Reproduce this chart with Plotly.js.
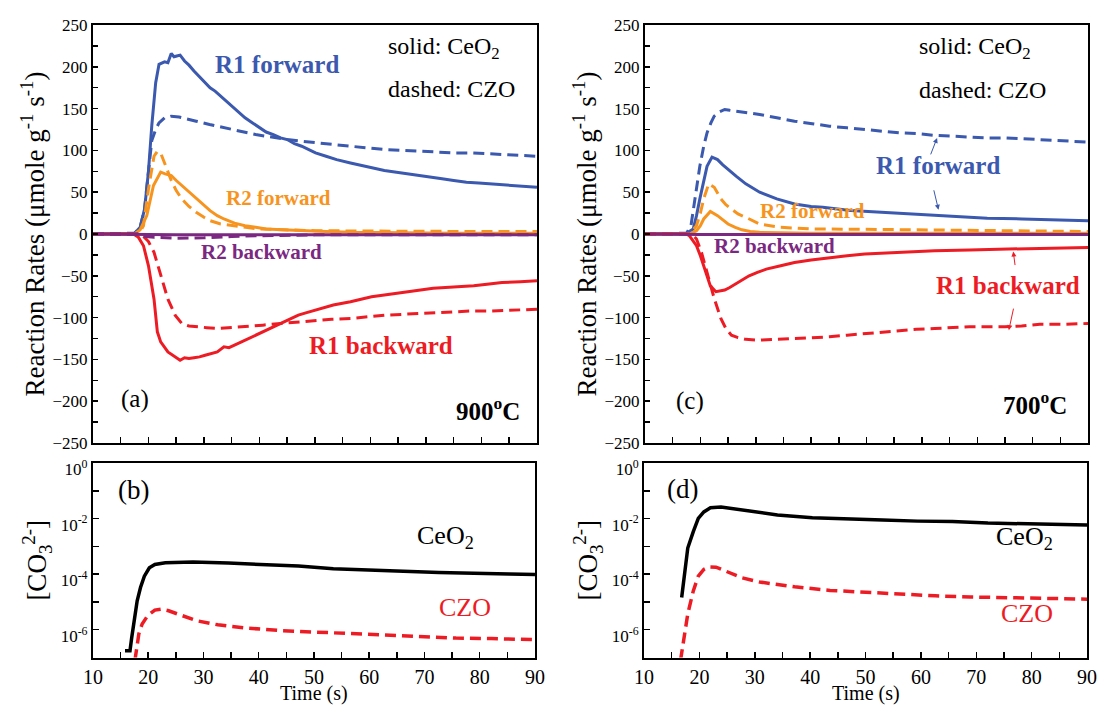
<!DOCTYPE html>
<html>
<head>
<meta charset="utf-8">
<script src="https://cdn.plot.ly/plotly-3.0.1.min.js"></script>
<style>html,body{margin:0;padding:0;background:#fff;}#chart{width:1099px;height:707px;}</style>
</head>
<body>
<div id="chart"></div>
<script>
// ---------- Panel (a): 900 C reaction rates ----------
const a_r1f_ceo2_x = [10, 17.5, 18.5, 19.3, 20, 20.6, 21.3, 21.9, 22.9, 23.5, 24.1, 24.6, 25.1, 25.7, 26.5, 27.3, 28.2, 29.2, 30.2, 31.1, 32, 33, 34, 34.9, 36, 37.4, 38.5, 40, 41.2, 42.5, 43.8, 45, 46.3, 47.6, 48.8, 50.1, 52, 53.9, 56.4, 58.3, 60.2, 62.5, 64.7, 67, 69.1, 71, 72.9, 75, 77.3, 79.5, 81.8, 83.7, 85.6, 87.8, 90];
const a_r1f_ceo2_y = [0, 1, 8, 30, 75, 130, 181, 203, 206, 205, 216, 212, 213, 214, 207, 202, 195, 188, 181, 175, 171, 165, 160, 154, 148, 139, 134, 127, 122, 119, 115, 113, 108, 105, 101, 97, 93, 89, 85, 82, 79, 76, 74, 72, 70, 68, 66, 64, 62, 61, 60, 59, 58, 57, 56];
const a_r1f_czo_x = [10, 17.5, 18.5, 19.3, 20, 20.6, 21.3, 21.9, 22.9, 24.1, 25.5, 27, 28.6, 31, 33.6, 35.5, 37.4, 39.3, 41.2, 43, 45, 47.5, 50.1, 53, 56.4, 59.5, 62.8, 66, 69, 72, 75.4, 78.5, 81.8, 86, 90];
const a_r1f_czo_y = [0, 1, 8, 30, 75, 112, 125, 133, 139, 141, 140, 138, 135, 131, 127, 124, 121, 119, 117, 115, 113, 111, 109, 107, 105, 103, 101, 100, 99, 98, 97, 97, 96, 95, 93];
const a_r2f_ceo2_x = [10, 17.5, 18.5, 19.7, 20.9, 22.2, 23, 24.1, 25, 26, 27.3, 28.6, 30, 31.1, 32.4, 33.6, 35.5, 37.4, 39.3, 41.2, 44, 47, 52, 56.4, 65, 75, 90];
const a_r2f_ceo2_y = [0, 0, 5, 22, 58, 74, 72, 70, 64, 58, 50, 42, 34, 28, 22, 18, 13, 10, 8, 6, 5, 4, 3, 2, 1.5, 1, 1];
const a_r2f_czo_x = [10, 17.5, 18.5, 19.1, 20, 21, 21.6, 22.3, 22.9, 24.1, 25, 26, 27.3, 28.6, 30, 31.1, 33, 34.9, 37.5, 40, 45, 50, 60, 70, 80, 90];
const a_r2f_czo_y = [0, 0, 3, 10, 54, 93, 99, 95, 85, 64, 52, 42, 33, 26, 20, 16, 12, 10, 8, 6, 5, 4, 3.5, 3, 3, 3];
const a_r2b_ceo2_x = [10, 18, 25, 40, 60, 90];
const a_r2b_ceo2_y = [0, -0.5, -1, -1, -1, -1];
const a_r2b_czo_x = [10, 18, 19.5, 21, 25, 30, 35, 40, 50, 90];
const a_r2b_czo_y = [0, 0, -3, -4, -5, -4.5, -3, -2, -1, -1];
const a_r1b_ceo2_x = [10, 17.3, 18.2, 19.1, 20, 21, 21.6, 22.2, 23.5, 24.8, 25.7, 26.5, 27.3, 28.2, 29.2, 30.2, 31.1, 32.4, 33.6, 34.5, 35.5, 37.4, 39, 40.6, 42.2, 43.8, 45.4, 47, 48.5, 50.1, 51.7, 53.3, 56.4, 58.3, 60.2, 62.5, 64.7, 67, 69.1, 71.3, 73.5, 76, 78.6, 81, 83.7, 87, 90];
const a_r1b_ceo2_y = [0, 0, -4, -14, -38, -78, -117, -129, -141, -147, -151, -148, -149, -148, -147, -145, -143, -141, -135, -136, -133, -127, -122, -117, -112, -107, -102, -97, -94, -91, -88, -85, -81, -78, -75, -73, -71, -69, -67, -65, -64, -63, -62, -60, -58, -57, -56];
const a_r1b_czo_x = [10, 18.3, 19.1, 20, 21, 22.2, 23.5, 24.8, 26, 27.3, 28.6, 30.5, 32.4, 35, 37.4, 40.6, 43.8, 47, 50.1, 53, 56.4, 59.5, 62.8, 66, 69.1, 72, 75.4, 78.5, 81.8, 86, 90];
const a_r1b_czo_y = [0, 0, -3, -9, -22, -50, -78, -97, -107, -110, -111, -112, -113, -112, -111, -109, -107, -105, -103, -102, -101, -99, -97, -96, -95, -94, -93, -92, -92, -91, -90];

// ---------- Panel (c): 700 C reaction rates ----------
const c_r1f_czo_x = [10, 17.5, 18.3, 19.1, 19.9, 20.6, 21.2, 21.9, 22.5, 23.4, 24.4, 25.3, 26.3, 28.5, 30.7, 33.8, 37, 40.2, 43.3, 46.5, 49.7, 52.8, 56, 59.2, 62.3, 65.5, 68.6, 71.8, 75, 78.1, 81.3, 85.6, 90];
const c_r1f_czo_y = [0, 1, 10, 45, 81, 105, 121, 133, 141, 146, 149, 148, 147, 145, 143, 139, 135, 132, 129, 127, 125, 123, 121, 120, 118, 117, 116, 115, 115, 114, 113, 111, 110];
const c_r1f_ceo2_x = [10, 17.5, 18.7, 19.3, 19.9, 20.6, 21.2, 22.1, 23.1, 24, 25, 26.5, 28.2, 30.7, 33.8, 37, 40, 42.1, 47.1, 52.8, 59.1, 65.5, 71.8, 78.1, 84.4, 90];
const c_r1f_ceo2_y = [0, 1, 6, 22, 42, 62, 81, 92, 89, 83, 77, 69, 60, 50, 42, 36, 33, 32, 28, 26, 23, 21, 19, 18, 17, 16];
const c_r2f_czo_x = [10, 18, 19.3, 20, 20.6, 21.5, 22.5, 23.7, 24.6, 25.6, 26.8, 28.2, 30.7, 34.5, 40, 43.3, 56, 70, 90];
const c_r2f_czo_y = [0, 0, 10, 25, 42, 60, 56, 42, 35, 30, 24, 20, 12, 8, 6, 6, 5, 4, 3];
const c_r2f_ceo2_x = [10, 18, 19.3, 20, 20.6, 21.8, 23.1, 24, 25, 26.3, 27.5, 29, 30.7, 40, 90];
const c_r2f_ceo2_y = [0, 0, 4, 10, 18, 27, 22, 17, 12, 8, 5, 3, 2, 1, 1];
const c_r2b_ceo2_x = [10, 20, 40, 60, 90];
const c_r2b_ceo2_y = [0, -0.5, -0.5, -0.5, -0.5];
const c_r1b_ceo2_x = [10, 17.5, 18, 19.3, 20, 20.6, 21.2, 21.8, 22.8, 23.5, 24.4, 25.3, 26.3, 27.5, 28.8, 30.3, 31.9, 34.5, 37, 40, 43.3, 46.5, 49.7, 56, 62.3, 68.6, 75, 81.3, 90];
const c_r1b_ceo2_y = [0, 0, -2, -14, -26, -38, -50, -62, -69, -68, -67, -64, -60, -55, -50, -46, -42, -38, -34, -31, -28, -26, -24, -22, -20, -19, -18, -17, -16];
const c_r1b_czo_x = [10, 18.5, 19.3, 20.2, 21.2, 22.5, 23.7, 24.6, 25.6, 26.8, 28.2, 30.7, 33.8, 37, 40.2, 43.3, 46.5, 49.7, 53, 56, 59, 62.3, 65.5, 68.6, 71.8, 75, 78, 81.3, 85.6, 90];
const c_r1b_czo_y = [0, 0, -6, -22, -46, -77, -101, -113, -121, -124, -126, -127, -126, -125, -124, -123, -121, -119, -117, -115, -114, -113, -112, -111, -111, -111, -110, -108, -108, -107];

// ---------- Panel (b): 900 C carbonate ----------
const b_ceo2_x = [15.8, 16.7, 17.0, 17.4, 18.0, 18.6, 19.3, 20.2, 21.2, 23.1, 25, 28.1, 34.5, 40.8, 47.2, 53.5, 59.9, 66.2, 72.6, 78.9, 85.3, 90];
const b_ceo2_y = [1.74e-7, 1.74e-7, 5.0e-7, 1.58e-6, 1.1e-5, 3.3e-5, 8.5e-5, 1.7e-4, 2.24e-4, 2.57e-4, 2.7e-4, 2.75e-4, 2.5e-4, 2.24e-4, 1.95e-4, 1.58e-4, 1.38e-4, 1.26e-4, 1.15e-4, 1.05e-4, 1.02e-4, 9.8e-5];
const b_czo_x = [17.6, 18.3, 18.9, 19.9, 21.2, 22.4, 23.7, 26.2, 28.8, 32.6, 37.7, 44, 50.4, 56.7, 63, 69.4, 75.7, 82.1, 90];
const b_czo_y = [8e-8, 7.1e-7, 1.62e-6, 3.2e-6, 5.1e-6, 5.5e-6, 4.8e-6, 3.2e-6, 2.1e-6, 1.5e-6, 1.15e-6, 9.3e-7, 8.1e-7, 7.1e-7, 6.3e-7, 5.5e-7, 5.0e-7, 4.8e-7, 4.4e-7];

// ---------- Panel (d): 700 C carbonate ----------
const d_ceo2_x = [16.8, 17.3, 17.9, 18.9, 19.8, 20.8, 22, 23.9, 27.7, 34.1, 40.4, 46.7, 53.1, 59.4, 65.7, 72.1, 78.4, 84.7, 90];
const d_ceo2_y = [1.45e-5, 9.8e-5, 8.7e-4, 3.4e-3, 1.02e-2, 1.74e-2, 2.45e-2, 2.63e-2, 2.0e-2, 1.35e-2, 1.07e-2, 9.5e-3, 8.9e-3, 8.1e-3, 7.8e-3, 6.9e-3, 6.5e-3, 6.2e-3, 5.9e-3];
const d_czo_x = [16.6, 17.3, 17.9, 18.9, 19.8, 20.8, 21.7, 23, 24.6, 27.7, 30.9, 37.2, 43.6, 49.9, 56.2, 62.6, 68.9, 75.2, 81.6, 90];
const d_czo_y = [8e-8, 7.1e-7, 3.7e-6, 2.5e-5, 8.5e-5, 1.48e-4, 1.82e-4, 1.78e-4, 1.29e-4, 7.4e-5, 5.2e-5, 3.5e-5, 2.6e-5, 2.2e-5, 1.9e-5, 1.66e-5, 1.51e-5, 1.45e-5, 1.38e-5, 1.26e-5];

// ---------- Tick labels ----------
const logTickVals = [1, 1e-2, 1e-4, 1e-6];
const logTickText = ['10<sup>0</sup>', '10<sup>-2</sup>', '10<sup>-4</sup>', '10<sup>-6</sup>'];
const logMinorVals = [1e-1, 1e-3, 1e-5, 1e-7];

const BLUE = '#3b59ae', ORANGE = '#f7941e', PURPLE = '#7b2882', RED = '#ed1c24';
const SERIF = 'Liberation Serif';
const DASH = '11px,6px';

function line(x, y, color, dashed, xa, ya, w) {
  return {x: x, y: y, type: 'scatter', mode: 'lines', xaxis: xa, yaxis: ya,
    line: {color: color, width: w || 3, dash: dashed ? DASH : 'solid'}, hoverinfo: 'skip', showlegend: false};
}

const data = [
  line(a_r1f_czo_x, a_r1f_czo_y, BLUE, true, 'x', 'y'),
  line(a_r1f_ceo2_x, a_r1f_ceo2_y, BLUE, false, 'x', 'y'),
  line(a_r2f_czo_x, a_r2f_czo_y, ORANGE, true, 'x', 'y'),
  line(a_r2f_ceo2_x, a_r2f_ceo2_y, ORANGE, false, 'x', 'y'),
  line(a_r1b_czo_x, a_r1b_czo_y, RED, true, 'x', 'y'),
  line(a_r1b_ceo2_x, a_r1b_ceo2_y, RED, false, 'x', 'y'),
  line(a_r2b_czo_x, a_r2b_czo_y, PURPLE, true, 'x', 'y'),
  line(a_r2b_ceo2_x, a_r2b_ceo2_y, PURPLE, false, 'x', 'y'),

  line(c_r1f_czo_x, c_r1f_czo_y, BLUE, true, 'x3', 'y3'),
  line(c_r1f_ceo2_x, c_r1f_ceo2_y, BLUE, false, 'x3', 'y3'),
  line(c_r2f_czo_x, c_r2f_czo_y, ORANGE, true, 'x3', 'y3'),
  line(c_r2f_ceo2_x, c_r2f_ceo2_y, ORANGE, false, 'x3', 'y3'),
  line(c_r1b_czo_x, c_r1b_czo_y, RED, true, 'x3', 'y3'),
  line(c_r1b_ceo2_x, c_r1b_ceo2_y, RED, false, 'x3', 'y3'),
  line(c_r2b_ceo2_x, c_r2b_ceo2_y, PURPLE, false, 'x3', 'y3'),

  line(b_ceo2_x, b_ceo2_y, '#000000', false, 'x2', 'y2', 3.5),
  line(b_czo_x, b_czo_y, RED, true, 'x2', 'y2', 3.5),
  line(d_ceo2_x, d_ceo2_y, '#000000', false, 'x4', 'y4', 3.5),
  line(d_czo_x, d_czo_y, RED, true, 'x4', 'y4', 3.5)
];

function frame(extra) {
  return Object.assign({
    showline: true, mirror: true, linecolor: '#000', linewidth: 2,
    showgrid: false, zeroline: false, ticks: 'inside', tickcolor: '#000', tickwidth: 1.5,
    tickfont: {family: SERIF, size: 17, color: '#000'}, fixedrange: true
  }, extra);
}

const topX = (dom, anchor) => frame({domain: dom, anchor: anchor, range: [10, 90], dtick: 5, tick0: 10, ticklen: 6, showticklabels: false});
const topY = (dom, anchor) => frame({domain: dom, anchor: anchor, range: [-250, 250], dtick: 50, tick0: 0, ticklen: 5,
  minor: {dtick: 25, tick0: 0, ticks: 'inside', ticklen: 5, tickcolor: '#000', tickwidth: 1.5},
  title: {text: 'Reaction Rates (μmole g<sup>-1</sup> s<sup>-1</sup>)', font: {family: SERIF, size: 27, color: '#000'}, standoff: 0}});
const botX = (dom, anchor) => frame({domain: dom, anchor: anchor, range: [10, 90], dtick: 10, tick0: 10, ticklen: 6,
  tickfont: {family: SERIF, size: 20, color: '#000'},
  minor: {dtick: 5, tick0: 10, ticks: 'inside', ticklen: 6, tickcolor: '#000', tickwidth: 1.5}});
const botY = (dom, anchor) => frame({domain: dom, anchor: anchor, type: 'log', range: [-7, 0], tickmode: 'array',
  tickvals: logTickVals, ticktext: logTickText, ticklen: 6, ticklabelshift: 6,
  minor: {tickmode: 'array', tickvals: logMinorVals, ticks: 'inside', ticklen: 6, tickcolor: '#000', tickwidth: 1.5},
  title: {text: '[CO<sub>3</sub><sup>2-</sup>]', font: {family: SERIF, size: 27, color: '#000'}, standoff: 6}});

function note(text, x, y, xr, yr, color, size, bold, anchor, vanchor) {
  return {text: bold ? '<b>' + text + '</b>' : text, x: x, y: y, xref: xr, yref: yr, showarrow: false,
    xanchor: anchor || 'center', yanchor: vanchor || 'middle', font: {family: SERIF, size: size, color: color}};
}
function arrow(x, y, ax, ay, color) {
  return {text: '', x: x, y: y, xref: 'x3', yref: 'y3', ax: ax, ay: ay, showarrow: true,
    arrowhead: 2, arrowsize: 1, arrowwidth: 1, arrowcolor: color};
}

const annotations = [
  note('R1 forward', 43.2, 203, 'x', 'y', BLUE, 25, true),
  note('solid: CeO<sub>2</sub>', 62.75, 223, 'x', 'y', '#000', 24, false, 'left'),
  note('dashed: CZO', 62.75, 173, 'x', 'y', '#000', 24, false, 'left'),
  note('R2 forward', 43.4, 42.6, 'x', 'y', ORANGE, 21, true),
  note('R2 backward', 40.3, -21.9, 'x', 'y', PURPLE, 21, true),
  note('R1 backward', 61.9, -133, 'x', 'y', RED, 25, true),
  note('(a)', 17.5, -197, 'x', 'y', '#000', 25, false),
  note('900<sup>o</sup>C', 81.2, -209, 'x', 'y', '#000', 25, true),

  note('solid: CeO<sub>2</sub>', 59.1, 222, 'x3', 'y3', '#000', 24, false, 'left'),
  note('dashed: CZO', 59.1, 172, 'x3', 'y3', '#000', 24, false, 'left'),
  note('R1 forward', 62.9, 82, 'x3', 'y3', BLUE, 25, true),
  note('R2 forward', 40.3, 27, 'x3', 'y3', ORANGE, 21, true),
  note('R2 backward', 33.4, -14.5, 'x3', 'y3', PURPLE, 21, true),
  note('R1 backward', 75.6, -62, 'x3', 'y3', RED, 25, true),
  note('(c)', 18.2, -200, 'x3', 'y3', '#000', 25, false),
  note('700<sup>o</sup>C', 80.4, -202, 'x3', 'y3', '#000', 25, true),
  arrow(62.75, 115, -7, 18, BLUE),
  arrow(63, 29, -5, -21, BLUE),
  arrow(76.5, -21, 2, 15, RED),
  arrow(75.7, -115, 5, -23, RED),

  note('(b)', 17.4, -0.98, 'x2', 'y2', '#000', 27, false),
  note('CeO<sub>2</sub>', 73.8, -2.65, 'x2', 'y2', '#000', 26, false),
  note('CZO', 77.3, -5.2, 'x2', 'y2', RED, 26, false),
  note('(d)', 17, -0.93, 'x4', 'y4', '#000', 27, false),
  note('CeO<sub>2</sub>', 78.7, -2.7, 'x4', 'y4', '#000', 26, false),
  note('CZO', 79.2, -5.43, 'x4', 'y4', RED, 26, false),

  note('Time (s)', 0.2856, 0.0, 'paper', 'paper', '#000', 20, false, 'center', 'bottom'),
  note('Time (s)', 0.7877, 0.0, 'paper', 'paper', '#000', 20, false, 'center', 'bottom')
];

const layout = {
  width: 1099, height: 707,
  margin: {l: 0, r: 0, t: 0, b: 0},
  paper_bgcolor: '#fff', plot_bgcolor: '#fff',
  showlegend: false,
  font: {family: SERIF, color: '#000'},
  xaxis: topX([0.0846, 0.4886], 'y'),
  yaxis: topY([0.3734, 0.9646], 'x'),
  xaxis2: botX([0.0846, 0.4868], 'y2'),
  yaxis2: botY([0.0700, 0.3451], 'x2'),
  xaxis3: topX([0.5869, 0.9900], 'y3'),
  yaxis3: topY([0.3734, 0.9646], 'x3'),
  xaxis4: botX([0.5860, 0.9891], 'y4'),
  yaxis4: botY([0.0700, 0.3451], 'x4'),
  annotations: annotations
};

Plotly.newPlot('chart', data, layout, {staticPlot: true, displayModeBar: false});
</script>
</body>
</html>
